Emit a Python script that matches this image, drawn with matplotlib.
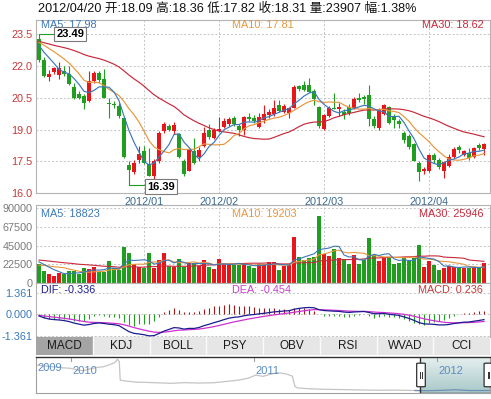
import matplotlib
matplotlib.use('Agg')
import matplotlib.pyplot as plt
import numpy as np
import pandas as pd
from matplotlib.patches import Rectangle, FancyBboxPatch
from matplotlib.colors import LinearSegmentedColormap

W, H = 491, 399

header = '2012/04/20 开:18.09 高:18.36 低:17.82 收:18.31 量:23907 幅:1.38%'
price_labels = ['MA5: 17.98', 'MA10: 17.81', 'MA30: 18.62']
vol_labels = ['MA5: 18823', 'MA10: 19203', 'MA30: 25946']
macd_labels = ['DIF: -0.336', 'DEA: -0.454', 'MACD: 0.236']
tabs = ['MACD', 'KDJ', 'BOLL', 'PSY', 'OBV', 'RSI', 'WVAD', 'CCI']

month_pos = [21, 36, 57, 78]
month_names = ['2012/01', '2012/02', '2012/03', '2012/04']

price_ticks = [16.0, 17.5, 19.0, 20.5, 22.0, 23.5]
vol_ticks = [0, 22500, 45000, 67500, 90000]
macd_ticks = [-1.361, 0.0, 1.361]

# daily candles, 2011/12 .. 2012/04/20
open_ = [23.28, 22.3, 21.47, 21.72, 21.56, 21.78, 21.6, 21.0, 20.66, 20.58,
         20.34, 21.3, 21.67, 21.36, 20.24, 20.2, 20.1, 19.53, 17.34, 16.98,
         17.56, 17.97, 17.37, 16.83, 17.53, 18.94, 19.17, 18.94, 18.78, 17.53,
         17.06, 18.0, 17.7, 18.25, 18.97, 18.6, 18.95, 19.12, 19.25, 19.53,
         19.17, 19.0, 19.6, 19.56, 19.12, 19.44, 19.69, 19.72, 20.16, 19.84,
         19.8, 20.03, 21.03, 21.08, 21.12, 20.81, 20.06, 19.02, 19.64, 20.03,
         19.95, 19.84, 20.06, 20.0, 20.5, 20.53, 20.62, 19.48, 19.09, 19.75,
         20.06, 19.64, 19.4, 18.86, 18.7, 18.31, 17.45, 17.03, 17.03, 17.8,
         17.56, 17.03, 17.3, 17.72, 18.16, 17.81, 17.92, 17.72, 18.28, 18.09]
high = [23.49, 22.4, 21.82, 21.95, 22.2, 21.98, 22.0, 21.2, 20.8, 20.66,
        21.75, 21.78, 21.78, 21.83, 20.5, 20.34, 20.27, 19.56, 17.53, 17.56,
        18.23, 18.23, 18.14, 17.6, 18.94, 19.36, 19.25, 19.36, 18.86, 17.6,
        18.08, 18.6, 18.16, 19.1, 19.25, 19.08, 19.6, 19.53, 19.6, 19.64,
        19.28, 19.64, 19.8, 19.69, 19.8, 20.15, 19.95, 20.37, 20.37, 20.22,
        20.06, 21.1, 21.12, 21.3, 21.44, 20.9, 20.1, 19.75, 20.1, 20.73,
        20.27, 19.95, 20.19, 20.53, 20.73, 20.65, 21.1, 19.64, 20.03, 20.22,
        20.1, 19.75, 19.48, 18.94, 18.78, 18.39, 17.53, 17.22, 17.84, 17.92,
        17.64, 17.53, 17.84, 18.16, 18.28, 18.03, 18.12, 18.2, 18.39, 18.36]
low = [22.2, 21.47, 21.3, 21.6, 21.36, 21.5, 21.1, 20.42, 20.42, 19.95,
       20.3, 21.2, 21.2, 20.5, 19.56, 20.0, 19.56, 17.66, 16.39, 16.9,
       17.45, 17.37, 16.8, 16.45, 17.45, 18.86, 18.92, 18.8, 17.66, 16.83,
       17.03, 17.37, 17.53, 18.16, 18.55, 18.55, 18.9, 19.06, 19.17, 19.17,
       18.7, 18.75, 19.4, 19.33, 19.06, 19.33, 19.56, 19.64, 19.84, 19.8,
       19.56, 20.0, 20.81, 20.81, 20.75, 20.17, 19.09, 18.97, 19.59, 19.95,
       19.65, 19.5, 19.69, 19.95, 20.3, 20.2, 19.17, 19.09, 19.0, 19.69,
       19.28, 19.09, 19.06, 18.39, 18.08, 17.5, 16.56, 16.9, 16.98, 17.45,
       17.14, 16.72, 17.25, 17.66, 17.92, 17.76, 17.56, 17.66, 18.03, 17.82]
close = [22.3, 21.5, 21.62, 21.88, 21.9, 21.6, 21.15, 20.5, 20.5, 20.27,
         21.28, 21.67, 21.33, 20.5, 20.2, 20.14, 19.64, 17.69, 17.1, 17.45,
         17.84, 17.45, 16.83, 17.53, 18.86, 19.28, 18.97, 19.2, 17.7, 16.9,
         18.03, 17.42, 18.05, 18.86, 18.65, 19.0, 19.05, 19.4, 19.48, 19.25,
         19.0, 19.6, 19.48, 19.4, 19.6, 19.72, 19.84, 20.03, 19.87, 20.1,
         20.03, 21.0, 20.9, 20.86, 20.78, 20.42, 19.17, 19.69, 20.03, 19.98,
         20.06, 19.69, 19.8, 20.42, 20.37, 20.44, 19.48, 19.17, 19.95, 20.16,
         19.33, 19.44, 19.25, 18.5, 18.16, 17.53, 16.98, 17.14, 17.8, 17.56,
         17.22, 17.48, 17.72, 18.1, 18.03, 17.97, 17.64, 18.12, 18.12, 18.31]
volume = [22400, 14000, 10400, 8400, 12000, 10000, 14000, 13600, 10000, 18000,
          16400, 19200, 12400, 13200, 26400, 17200, 14800, 43200, 36000, 23200,
          19200, 17200, 36000, 17200, 27200, 36000, 20000, 19200, 28800, 19200,
          24400, 24000, 20400, 27200, 19200, 16400, 29200, 22000, 23200, 21200,
          21200, 22000, 20400, 18000, 22400, 23200, 25200, 25200, 15200, 20400,
          21200, 55200, 31200, 27200, 30000, 31200, 81200, 35200, 32000, 41200,
          30000, 29200, 23200, 33200, 23200, 27200, 54000, 34000, 26000, 31200,
          30000, 23200, 24000, 30400, 26400, 30400, 45200, 19200, 26000, 22000,
          15200, 18000, 20400, 19200, 19200, 18000, 18000, 18000, 18000, 23907]

# sessions before the window, only used to start the averages
prior_close = [23.6, 23.4, 23.8, 23.5, 23.2, 23.0, 22.8, 23.1, 23.3, 23.6,
               23.4, 23.0, 22.7, 22.9, 23.2, 23.5, 23.3, 23.0, 22.8, 22.6,
               22.9, 23.1, 23.4, 23.6, 23.3, 23.1, 22.9, 23.2, 23.3]
prior_vol = [31000, 29500, 32000, 30500, 28000, 33000, 31500, 29000, 30000, 32500,
             30000, 29000, 31000, 30500, 32000, 29500, 31000, 30000, 30000,
             16000, 18500, 17000, 17500, 17000, 30000, 26000, 24000, 23600]

# long history for the navigator strip
nav_t = [2009.81, 2009.86, 2009.91, 2009.96, 2010.00, 2010.04, 2010.07, 2010.10,
         2010.14, 2010.18, 2010.21, 2010.24, 2010.255, 2010.265, 2010.27, 2010.30,
         2010.36, 2010.42, 2010.48, 2010.55, 2010.62, 2010.70, 2010.78, 2010.86,
         2010.92, 2010.97, 2011.01, 2011.05, 2011.09, 2011.13, 2011.17, 2011.21,
         2011.225, 2011.24, 2011.30, 2011.38, 2011.48, 2011.58, 2011.68, 2011.78,
         2011.88, 2011.95, 2012.02, 2012.10, 2012.18, 2012.29]
nav_p = [60.1, 58.5, 57.0, 55.5, 54.7, 52.0, 50.8, 53.5, 56.0, 57.4, 60.5, 64.0,
         69.5, 65.6, 35.5, 33.8, 32.0, 31.5, 30.8, 30.1, 31.2, 30.5, 31.0, 33.5,
         35.5, 38.5, 43.7, 41.5, 45.0, 47.5, 46.0, 42.1, 24.6, 22.5, 21.2, 20.3,
         19.8, 19.2, 18.7, 18.9, 18.3, 17.9, 18.5, 19.5, 18.2, 18.3]
nav_years = [2010, 2011, 2012]
sel_start = 2011.91

RED = '#e8161b'
GREEN = '#1f9e1f'
C_MA5 = '#3b78b8'
C_MA10 = '#e8963c'
C_MA30 = '#c8283a'
GRID = '#c4c4c4'
FRAME = '#b4b4b4'

plt.rcParams['font.family'] = ['Liberation Sans', 'Noto Sans CJK SC', 'DejaVu Sans']

fig = plt.figure(figsize=(W / 100, H / 100), dpi=100)
fig.patch.set_facecolor('white')


def px_axes(x0, y0, x1, y1):
    return fig.add_axes([x0 / W, 1 - y1 / H, (x1 - x0) / W, (y1 - y0) / H])


def frame(ax):
    for s in ax.spines.values():
        s.set_color(FRAME)
        s.set_linewidth(0.8)
    ax.tick_params(length=0, pad=2.5, labelsize=7.8)


n = len(close)
x = np.arange(n)
o = np.array(open_)
c = np.array(close)
up = c >= o
colors = np.where(up, RED, GREEN)

cs = pd.Series(prior_close + close)
k = len(prior_close)
ma5 = cs.rolling(5).mean().values[k:]
ma10 = cs.rolling(10).mean().values[k:]
ma30 = cs.rolling(30, min_periods=1).mean().values[k:]
dif_all = cs.ewm(span=12, adjust=False).mean() - cs.ewm(span=26, adjust=False).mean()
dea_all = dif_all.ewm(span=9, adjust=False).mean()
dif = dif_all.values[k:]
dea = dea_all.values[k:]
hist = 2 * (dif - dea)

vs = pd.Series(prior_vol + volume)
kv = len(prior_vol)
vma5 = vs.rolling(5).mean().values[kv:]
vma10 = vs.rolling(10).mean().values[kv:]
vma30 = vs.rolling(30, min_periods=1).mean().values[kv:]

xl = (-0.6, 90.2)

fig.text(38 / W, 1 - 9 / H, header, fontsize=9.1, va='center', color='#111111')

# price panel
ax = px_axes(36, 20, 490, 193.3)
frame(ax)
ax.set_xlim(*xl)
ax.set_ylim(16.0, 24.16)
for yv in price_ticks[1:]:
    ax.axhline(yv, color=GRID, lw=0.7, ls=(0, (2, 2)), zorder=0)
for mp in month_pos:
    ax.axvline(mp, color=GRID, lw=0.7, ls=(0, (2, 2)), zorder=0)
ax.vlines(x, low, high, colors=colors, lw=0.8, zorder=2)
body = np.maximum(np.abs(c - o), 0.03)
ax.bar(x, body, bottom=np.minimum(o, c), width=0.72, color=colors, lw=0, zorder=3)
ax.plot(x, ma30, color=C_MA30, lw=0.85, zorder=4)
ax.plot(x, ma10, color=C_MA10, lw=0.85, zorder=4)
ax.plot(x, ma5, color=C_MA5, lw=0.85, zorder=4)
ax.set_yticks(price_ticks)
ax.set_yticklabels(['%.1f' % t for t in price_ticks], color='#c83838')
ax.set_xticks(month_pos)
ax.set_xticklabels(month_names, color='#3a6890')
ax.tick_params(axis='x', pad=3)

ih = int(np.argmax(high))
il = int(np.argmin(low))
box = dict(boxstyle='square,pad=0.2', fc='white', ec='#7a7a7a', lw=0.8)
ax.plot([ih, ih + 3.0], [high[ih], high[ih]], color=GREEN, lw=0.8, zorder=5)
ax.text(ih + 3.45, high[ih], '%.2f' % high[ih], fontsize=8, fontweight='bold',
        va='center', ha='left', bbox=box, zorder=6, clip_on=False)
ax.plot([il, il + 3.2], [low[il], low[il]], color=GREEN, lw=0.8, zorder=5, clip_on=False)
ax.text(il + 3.65, low[il] - 0.07, '%.2f' % low[il], fontsize=8, fontweight='bold',
        va='center', ha='left', bbox=box, zorder=6, clip_on=False)

ly = 0.972
ax.text(0.011, ly, price_labels[0], transform=ax.transAxes, color=C_MA5, fontsize=7.8, va='center')
ax.text(0.432, ly, price_labels[1], transform=ax.transAxes, color=C_MA10, fontsize=7.8, va='center')
ax.text(0.985, ly, price_labels[2], transform=ax.transAxes, color=C_MA30, fontsize=7.8, va='center', ha='right')

# volume panel
av = px_axes(36, 205, 490, 282.7)
frame(av)
av.set_xlim(*xl)
av.set_ylim(0, 94000)
for yv in vol_ticks[1:]:
    av.axhline(yv, color=GRID, lw=0.7, ls=(0, (2, 2)), zorder=0)
for mp in month_pos:
    av.axvline(mp, color=GRID, lw=0.7, ls=(0, (2, 2)), zorder=0)
av.bar(x, volume, width=0.78, color=colors, lw=0, zorder=2)
av.plot(x, vma30, color=C_MA30, lw=0.8, zorder=3)
av.plot(x, vma10, color=C_MA10, lw=0.8, zorder=3)
av.plot(x, vma5, color=C_MA5, lw=0.8, zorder=3)
av.set_yticks(vol_ticks)
av.set_yticklabels([str(t) for t in vol_ticks], color='#7a7a7a')
av.set_xticks([])
ly = 0.884
av.text(0.011, ly, vol_labels[0], transform=av.transAxes, color=C_MA5, fontsize=7.8, va='center')
av.text(0.432, ly, vol_labels[1], transform=av.transAxes, color=C_MA10, fontsize=7.8, va='center')
av.text(0.985, ly, vol_labels[2], transform=av.transAxes, color=C_MA30, fontsize=7.8, va='center', ha='right')

# MACD panel
am = px_axes(36, 283, 490, 337.3)
frame(am)
am.set_xlim(*xl)
am.set_ylim(-1.45, 1.97)
for yv in macd_ticks:
    am.axhline(yv, color=GRID, lw=0.7, ls=(0, (2, 2)), zorder=0)
am.vlines(x, 0, hist, colors=np.where(hist >= 0, '#a01818', GREEN), lw=0.8, zorder=2)
am.plot(x, dea, color='#d030d0', lw=0.9, zorder=3)
am.plot(x, dif, color='#1c1c90', lw=0.9, zorder=3)
am.set_yticks(macd_ticks)
am.set_yticklabels(['%.3f' % t for t in macd_ticks], color='#3b78b8')
am.set_xticks([])
ly = 0.87
am.text(0.011, ly, macd_labels[0], transform=am.transAxes, color='#1c1c90', fontsize=7.8, va='center')
am.text(0.432, ly, macd_labels[1], transform=am.transAxes, color='#c840c8', fontsize=7.8, va='center')
am.text(0.985, ly, macd_labels[2], transform=am.transAxes, color='#c83838', fontsize=7.8, va='center', ha='right')

# indicator tabs
at = px_axes(36, 337.3, 490, 355)
at.set_xlim(0, len(tabs))
at.set_ylim(0, 1)
at.axis('off')
for i, name in enumerate(tabs):
    fc = '#a4a4a4' if i == 0 else '#e6e6e6'
    at.add_patch(Rectangle((i, 0), 1, 1, fc=fc, ec='none'))
    if i > 0:
        at.plot([i, i], [0, 1], color='#fafafa', lw=1.0)
    at.text(i + 0.5, 0.5, name, ha='center', va='center', fontsize=8.5, color='#1a1a1a')

# navigator
an = px_axes(36, 357, 490, 393.3)
an.set_xlim(nav_t[0], nav_t[-1])
an.set_ylim(13.7, 73.3)
for s in an.spines.values():
    s.set_color('#a0a0a0')
    s.set_linewidth(0.8)
an.spines['top'].set_color('#303030')
an.spines['top'].set_linewidth(1.0)
an.set_xticks([])
an.set_yticks([])
grad = LinearSegmentedColormap.from_list('sel', ['#e8f0f0', '#a9c9c9'])
an.imshow(np.linspace(0, 1, 50).reshape(-1, 1), cmap=grad, aspect='auto',
          extent=(sel_start, nav_t[-1], 13.7, 73.3), origin='upper', zorder=1)
an.plot(nav_t, nav_p, color='#c4c4c4', lw=0.9, zorder=2)
tt = np.array(nav_t)
pp = np.array(nav_p)
m = tt >= sel_start - 0.05
an.plot(tt[m], pp[m], color='#6a90b8', lw=0.9, zorder=3)
an.plot([sel_start, sel_start], [13.7, 73.3], color='#303030', lw=1.0, zorder=4)
an.plot([sel_start, nav_t[-1]], [14.2, 14.2], color='#303030', lw=1.0, zorder=4)
an.text(0.003, 0.70, '2009', transform=an.transAxes, color='#5b8cc0', fontsize=8, va='center')
for yr in nav_years:
    an.plot([yr, yr], [73.3, 67.0], color='#a0a0a0', lw=0.8, zorder=2)
    an.text(yr + 0.008, 50.5, str(yr), color='#5b8cc0', fontsize=8, va='center', ha='left', zorder=5)
for hx in (0.8385, 0.987):
    an.add_patch(FancyBboxPatch((hx, 0.18), 0.019, 0.65, boxstyle='round,pad=0,rounding_size=0.008',
                                transform=an.transAxes, fc='white', ec='#303030', lw=0.9,
                                zorder=6, clip_on=False))
    for dx in (0.0075, 0.0115):
        an.plot([hx + dx, hx + dx], [0.42, 0.58], transform=an.transAxes, color='#303030',
                lw=0.7, zorder=7, clip_on=False)

fig.savefig('out.png', dpi=100, facecolor='white')
